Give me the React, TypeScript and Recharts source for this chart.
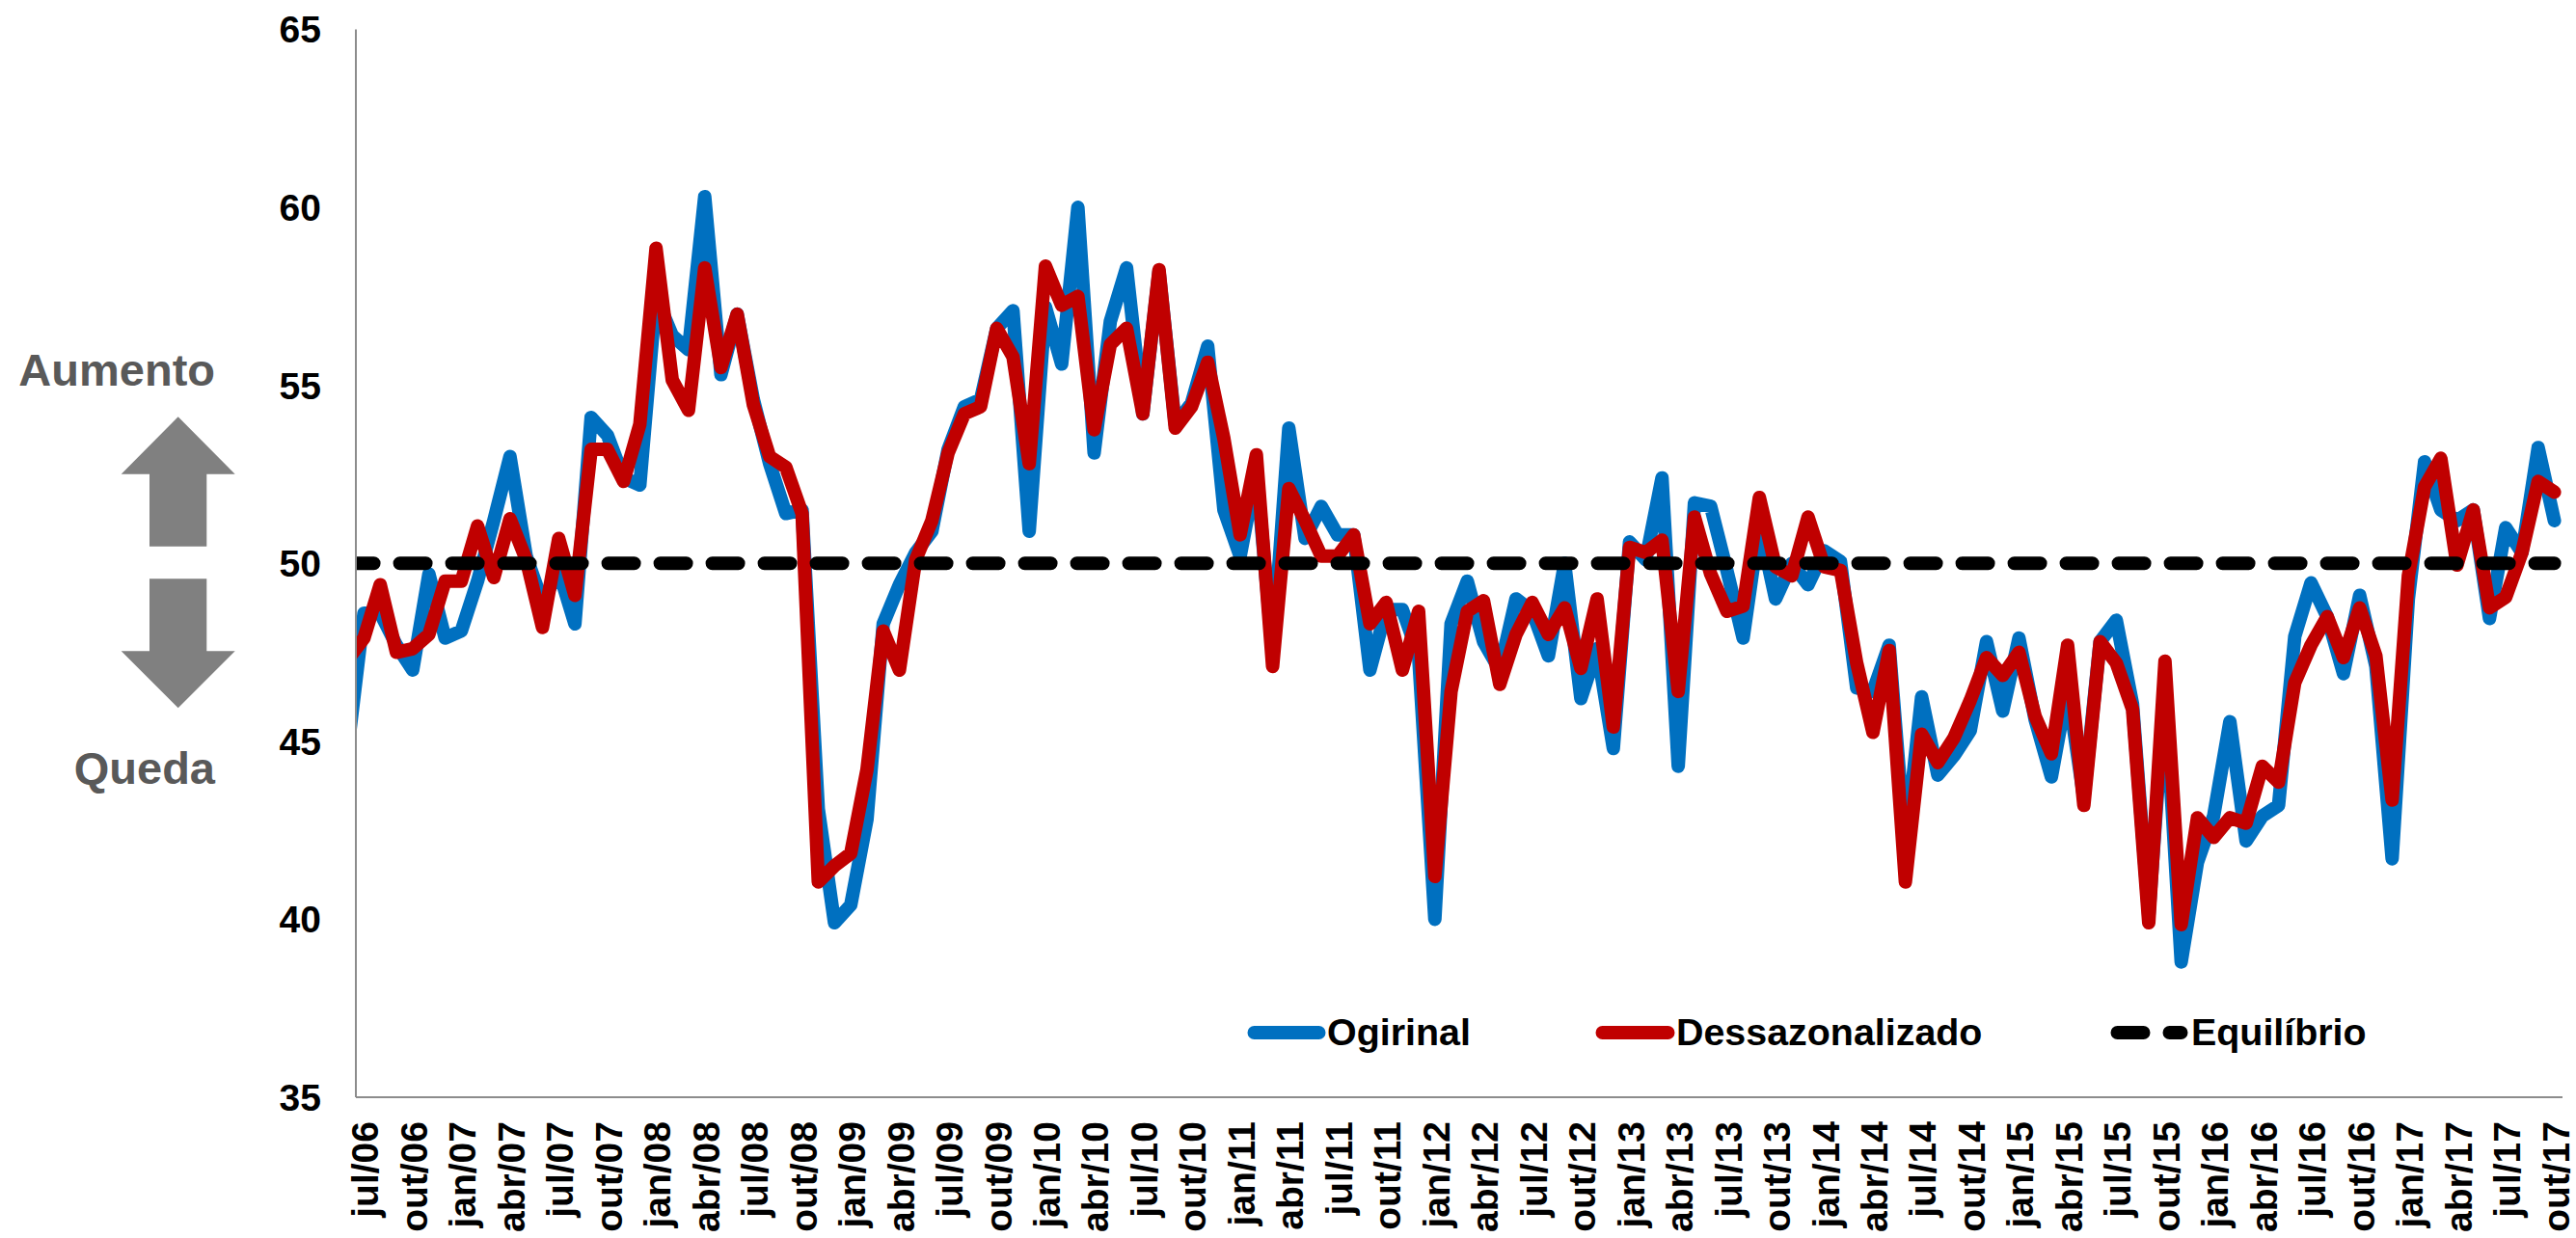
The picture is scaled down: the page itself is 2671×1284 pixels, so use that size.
import React from "react";
import { LineChart, Line, XAxis, YAxis, Legend } from "recharts";

// The first value of each series is the clipped month before jul/06, which sits left of the axis.
const original = [
  44.8, 48.6, 48.6, 47.7, 47.0, 49.7, 47.9, 48.1, 49.5, 51.2, 53.0, 50.2, 48.9, 49.8, 48.3, 54.1, 53.6, 52.4, 52.2,
  57.5, 56.4, 56.0, 60.3, 55.3, 57.0, 54.6, 52.8, 51.4, 51.5, 43.1, 39.9, 40.4, 42.8, 48.3, 49.4, 50.3, 50.9, 53.2,
  54.4, 54.6, 56.6, 57.1, 50.9, 57.2, 55.6, 60.0, 53.1, 56.8, 58.3, 54.2, 58.2, 53.9, 54.5, 56.1, 51.5, 50.2, 52.6,
  47.5, 53.8, 50.7, 51.6, 50.8, 50.8, 47.0, 48.7, 48.7, 47.4, 40.0, 48.3, 49.5, 47.8, 47.0, 49.0, 48.65, 47.4, 50.0,
  46.2, 47.6, 44.8, 50.6, 50.1, 52.4, 44.3, 51.7, 51.6, 49.8, 47.9, 51.1, 49.0, 50.0, 49.4, 50.35, 50.05, 46.5, 46.4,
  47.7, 42.0, 46.25, 44.05, 44.6, 45.3, 47.8, 45.85, 47.9, 45.6, 44.0, 46.5, 43.4, 47.8, 48.4, 46.05, 40.1, 46.5, 38.8,
  41.6, 42.9, 45.55, 42.2, 42.9, 43.2, 47.95, 49.45, 48.5, 46.9, 49.1, 47.1, 41.7, 49.0, 52.85, 51.5, 51.2, 51.5, 48.45,
  51.0, 50.3, 53.25, 51.2,
];
const dessazonalizado = [
  47.3, 47.9, 49.4, 47.5, 47.6, 48.0, 49.5, 49.5, 51.05, 49.6, 51.25, 50.1, 48.2, 50.7, 49.1, 53.2, 53.2, 52.3, 53.9,
  58.85, 55.15, 54.3, 58.3, 55.5, 57.0, 54.45, 53.0, 52.7, 51.4, 41.05, 41.5, 41.85, 44.2, 48.1, 47.0, 50.1, 51.2, 53.1,
  54.2, 54.4, 56.6, 55.8, 52.8, 58.35, 57.25, 57.5, 53.75, 56.15, 56.6, 54.2, 58.25, 53.8, 54.4, 55.65, 53.5, 50.8, 53.05,
  47.1, 52.1, 51.2, 50.2, 50.2, 50.8, 48.3, 48.9, 47.0, 48.65, 41.2, 46.4, 48.65, 48.95, 46.6, 48.0, 48.9, 48.0, 48.75,
  47.05, 49.0, 45.4, 50.45, 50.3, 50.65, 46.4, 51.3, 49.7, 48.65, 48.8, 51.85, 49.9, 49.65, 51.3, 49.9, 49.8, 47.2, 45.25,
  47.55, 41.05, 45.2, 44.4, 45.1, 46.15, 47.35, 46.85, 47.5, 45.7, 44.65, 47.7, 43.2, 47.8, 47.2, 45.9, 39.9, 47.25, 39.85,
  42.85, 42.3, 42.85, 42.7, 44.3, 43.85, 46.65, 47.7, 48.5, 47.35, 48.75, 47.4, 43.35, 49.65, 52.15, 52.95, 49.95, 51.5, 48.75,
  49.05, 50.3, 52.3, 52.0,
];
const equilibrio = 50;
const tickLabels = [
  "jul/06", "out/06", "jan/07", "abr/07", "jul/07", "out/07", "jan/08", "abr/08", "jul/08", "out/08",
  "jan/09", "abr/09", "jul/09", "out/09", "jan/10", "abr/10", "jul/10", "out/10", "jan/11", "abr/11",
  "jul/11", "out/11", "jan/12", "abr/12", "jul/12", "out/12", "jan/13", "abr/13", "jul/13", "out/13",
  "jan/14", "abr/14", "jul/14", "out/14", "jan/15", "abr/15", "jul/15", "out/15", "jan/16", "abr/16",
  "jul/16", "out/16", "jan/17", "abr/17", "jul/17", "out/17",
];
const yTicks = [35, 40, 45, 50, 55, 60, 65];

const rows = original.map((v, i) => ({
  t: i - 1,
  Ogirinal: v,
  Dessazonalizado: dessazonalizado[i],
  "Equilíbrio": equilibrio,
}));
const xTicks = tickLabels.map((_, i) => i * 3);

const FONT = '"Liberation Sans", Arial, sans-serif';
const LINE_W = 14;

const XTick = ({ x, y, payload }: any) => {
  const label = tickLabels[payload.value / 3];
  const tx = x + 15;
  const ty = y + 25;
  return (
    <text
      x={tx}
      y={ty}
      transform={`rotate(-90 ${tx} ${ty})`}
      textAnchor="end"
      fontFamily={FONT}
      fontWeight="bold"
      fontSize={39}
      fill="#000"
    >
      {label}
    </text>
  );
};

const LEGEND_LAYOUT = [
  { lineX: 12.5, lineEnd: 79.5, textX: 88 },
  { lineX: 373.5, lineEnd: 441.5, textX: 450 },
  { lineX: 907.5, lineEnd: 973.5, textX: 984 },
];

const LegendContent = ({ payload }: any) => (
  <svg width={1200} height={70} style={{ display: "block" }}>
    {(payload || []).map((p: any, i: number) => {
      const l = LEGEND_LAYOUT[i];
      const dashed = i === 2;
      return (
        <g key={p.value}>
          <line
            x1={l.lineX}
            x2={l.lineEnd}
            y1={31}
            y2={31}
            stroke={p.color}
            strokeWidth={LINE_W}
            strokeLinecap="round"
            strokeDasharray={dashed ? "27 27" : undefined}
          />
          <text x={l.textX} y={44} fontFamily={FONT} fontWeight="bold" fontSize={39.4} fill="#000">
            {p.value}
          </text>
        </g>
      );
    })}
  </svg>
);

const Side = () => (
  <svg width={340} height={1284} style={{ position: "absolute", left: 0, top: 0 }}>
    <text x={223} y={400} textAnchor="end" fontFamily={FONT} fontWeight="bold" fontSize={47} fill="#595959">
      Aumento
    </text>
    <text x={223} y={813} textAnchor="end" fontFamily={FONT} fontWeight="bold" fontSize={47} fill="#595959">
      Queda
    </text>
    <polygon
      points="184.7,432.3 243.7,491.7 214.3,491.7 214.3,566.7 155,566.7 155,491.7 125.7,491.7"
      fill="#808080"
    />
    <polygon
      points="155,600.3 214.3,600.3 214.3,675.3 243.7,675.3 184.7,734.3 125.7,675.3 155,675.3"
      fill="#808080"
    />
  </svg>
);

export default function App() {
  return (
    <div style={{ position: "absolute", left: 0, top: 0, width: 2671, height: 1284, background: "#fff", overflow: "hidden" }}>
      <LineChart
        width={2671}
        height={1284}
        data={rows}
        margin={{ top: 30.5, right: 14, bottom: 0, left: 269 }}
      >
        <XAxis
          dataKey="t"
          type="number"
          domain={[-0.5, 135.5]}
          allowDataOverflow
          ticks={xTicks}
          interval={0}
          height={146}
          tickLine={false}
          tickSize={0}
          tickMargin={0}
          axisLine={{ stroke: "#8C8C8C", strokeWidth: 2 }}
          tick={<XTick />}
        />
        <YAxis
          type="number"
          domain={[35, 65]}
          ticks={yTicks}
          interval={0}
          width={100}
          tickLine={false}
          tickSize={0}
          tickMargin={36}
          axisLine={{ stroke: "#8C8C8C", strokeWidth: 2 }}
          tick={{ fontFamily: FONT, fontWeight: "bold", fontSize: 39, fill: "#000" }}
        />
        <Line
          dataKey="Ogirinal"
          stroke="#0070C0"
          strokeWidth={LINE_W}
          strokeLinecap="round"
          strokeLinejoin="round"
          dot={false}
          isAnimationActive={false}
        />
        <Line
          dataKey="Dessazonalizado"
          stroke="#C00000"
          strokeWidth={LINE_W}
          strokeLinecap="round"
          strokeLinejoin="round"
          dot={false}
          isAnimationActive={false}
        />
        <Line
          dataKey="Equilíbrio"
          stroke="#000000"
          strokeWidth={LINE_W}
          strokeLinecap="round"
          strokeDasharray="27 27"
          dot={false}
          isAnimationActive={false}
        />
        <Legend
          layout="vertical"
          align="center"
          verticalAlign="middle"
          itemSorter={null}
          content={<LegendContent />}
          wrapperStyle={{ position: "absolute", left: 1288, top: 1040, width: 1200, height: 70, margin: 0 }}
        />
      </LineChart>
      <Side />
    </div>
  );
}
